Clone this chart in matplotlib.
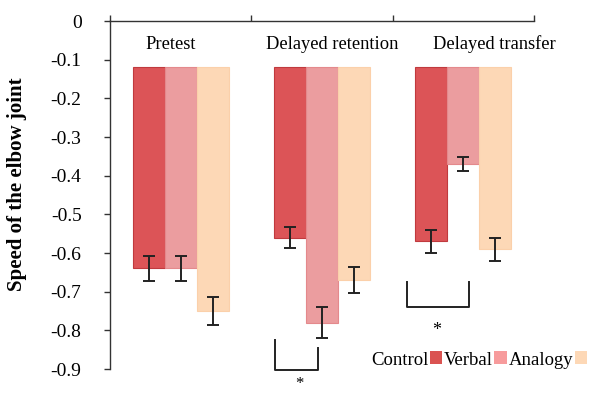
import numpy as np
import matplotlib
matplotlib.use("Agg")
import matplotlib.pyplot as plt
from matplotlib.patches import Patch

plt.rcParams['font.family'] = ['Liberation Serif', 'DejaVu Serif']
plt.rcParams['axes.unicode_minus'] = False

# data
phases = ["Pretest", "Delayed retention", "Delayed transfer"]
groups = ["Control", "Verbal", "Analogy"]
control = [-0.64, -0.56, -0.57]
verbal = [-0.64, -0.78, -0.37]
analogy = [-0.75, -0.67, -0.59]
control_err = [0.033, 0.026, 0.029]
verbal_err = [0.033, 0.040, 0.017]
analogy_err = [0.035, 0.033, 0.030]
bar_start = -0.12
yticks = [0, -0.1, -0.2, -0.3, -0.4, -0.5, -0.6, -0.7, -0.8, -0.9]
ytick_labels = ["0", "-0.1", "-0.2", "-0.3", "-0.4", "-0.5", "-0.6", "-0.7", "-0.8", "-0.9"]

# where the phase titles sit (slightly off-centre in the original)
label_x = [-0.07, 1.075, 2.22]

bar_colors = ["#DC5457", "#EB9D9F", "#FDD8B6"]
edge_colors = ["#C03A3E", "#E4898C", "#FBD0AA"]
legend_colors = ["#DA5351", "#F79B9C", "#FDD8B6"]

fig = plt.figure(figsize=(5.92, 3.94), dpi=100)
ax = fig.add_axes([110 / 592, 1 - 369 / 394, 424 / 592, 348 / 394])

x = np.arange(len(phases))
w = 0.227
series = [(control, control_err), (verbal, verbal_err), (analogy, analogy_err)]
for i, (vals, errs) in enumerate(series):
    vals = np.array(vals)
    pos = x + (i - 1) * w
    ax.bar(pos, vals - bar_start, bottom=bar_start, width=w,
           color=bar_colors[i], edgecolor=edge_colors[i], linewidth=0.8, zorder=2)
    ax.errorbar(pos, vals, yerr=errs, fmt='none', ecolor='#222222',
                elinewidth=1.4, capsize=4, capthick=1.4, zorder=3)

for lx, name in zip(label_x, phases):
    ax.text(lx, -0.06, name, ha='center', va='center', fontsize=13.3)

ax.set_xlim(-0.5, 2.5)
ax.set_ylim(-0.9, 0)
ax.set_yticks(yticks)
ax.set_yticklabels(ytick_labels, fontsize=14)
ax.tick_params(axis='y', direction='out', length=4.5, width=1, pad=16, color='#333333')
ax.xaxis.tick_top()
ax.set_xticks([-0.5, 0.5, 1.5, 2.5])
ax.set_xticklabels([])
ax.tick_params(axis='x', direction='out', length=4.5, width=1, color='#333333')
ax.spines['right'].set_visible(False)
ax.spines['bottom'].set_visible(False)
for s in ['left', 'top']:
    ax.spines[s].set_color('#333333')
    ax.spines[s].set_linewidth(1)

# significance brackets
ax.plot([0.665, 0.665, 0.970, 0.970], [-0.824, -0.902, -0.902, -0.845],
        color='#222222', lw=1.4, clip_on=False)
ax.text(0.84, -0.938, "*", ha='center', va='center', fontsize=12, clip_on=False)
ax.plot([1.600, 1.600, 2.038, 2.038], [-0.674, -0.739, -0.739, -0.676],
        color='#222222', lw=1.4, clip_on=False)
ax.text(1.81, -0.80, "*", ha='center', va='center', fontsize=13, clip_on=False)

fig.text(17 / 592, 1 - 184 / 394, "Speed of the elbow joint", rotation=90,
         ha='center', va='center', fontsize=15, fontweight='bold')

handles = [Patch(facecolor=c, edgecolor='none') for c in legend_colors]
fig.legend(handles, groups, loc='center left', bbox_to_anchor=(371 / 592, 1 - 360 / 394),
           ncol=3, frameon=False, markerfirst=False, handlelength=0.68, handleheight=0.68,
           handletextpad=0.06, columnspacing=0.1, borderpad=0, borderaxespad=0,
           fontsize=13.5)

fig.savefig("out.png", dpi=100)
